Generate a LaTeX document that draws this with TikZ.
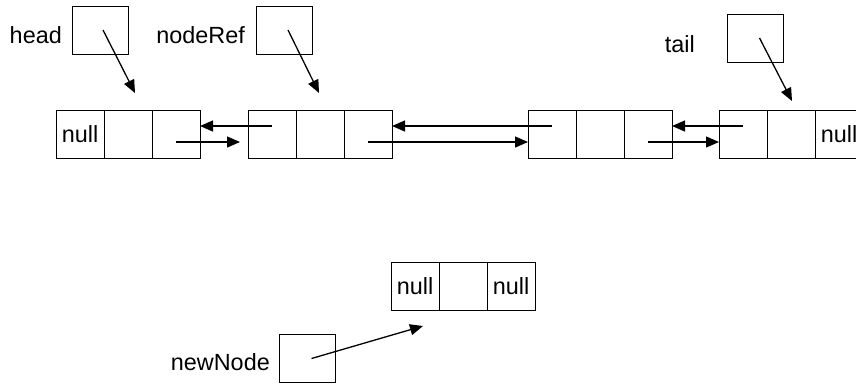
\documentclass[tikz,border=0pt]{standalone}
\usepackage{fontspec}
\setmainfont{Liberation Sans}
\usepackage{tikz}
\usetikzlibrary{positioning}
\usetikzlibrary{arrows.meta}

\begin{document}
\begin{tikzpicture} [
    x=1pt, y=-1pt,
    cell/.style    = { rectangle, draw=black, line width=0.8pt,
                       minimum width=48pt, minimum height=48pt,
                       inner sep=0pt, outer sep=0pt,
                       font=\fontsize{23.4}{28}\selectfont},
    pointer/.style = { rectangle, draw=black, line width=0.8pt,
                       minimum width=56pt, minimum height=48pt,
                       inner sep=0pt, outer sep=0pt},
    varname/.style = { inner sep=0pt, anchor=base east,
                       font=\fontsize{23.4}{28}\selectfont},
    line/.style    = { draw, line width=1.3pt,
                       -{Triangle[length=13pt, width=11pt]}},
  ]

\useasboundingbox (0,0) rectangle (856,383);

%Listenknoten: Zahl = Knoten; a = prev, b = Daten, c = next
  \node [cell] (1a) at (80,134) {null};
  \node [cell, right=0pt of 1a] (1b) {};
  \node [cell, right=0pt of 1b] (1c) {};

  \node [cell] (2a) at (272,134) {};
  \node [cell, right=0pt of 2a] (2b) {};
  \node [cell, right=0pt of 2b] (2c) {};

  \node [cell] (3a) at (552,134) {};
  \node [cell, right=0pt of 3a] (3b) {};
  \node [cell, right=0pt of 3b] (3c) {};

  \node [cell] (4a) at (743,134) {};
  \node [cell, right=0pt of 4a] (4b) {};
  \node [cell, right=0pt of 4b] (4c) {null};

%neuer Knoten
  \node [cell] (5a) at (415,286) {null};
  \node [cell, right=0pt of 5a] (5b) {};
  \node [cell, right=0pt of 5b] (5c) {null};

%Referenzvariablen
  \node [pointer] (head)    at (100,30)      {};
  \node [pointer] (noderef) at (284,30)      {};
  \node [pointer] (tail)    at (755.5,38)    {};
  \node [pointer] (newnode) at (307.5,358.5) {};

  \node [varname] (headname)    at (62,43)   {head};
  \node [varname] (noderefname) at (245,43)  {nodeRef};
  \node [varname] (tailname)    at (695,52)  {tail};
  \node [varname] (newnodename) at (270,370) {newNode};

%Pfeile (Referenz auf Knoten)
  \begin{scope} [every path/.style={line}]
   \path ([xshift=3pt]head.center)    -- ([xshift=7pt, yshift=17pt]1b.north);
   \path ([xshift=4pt]noderef.center) -- ([xshift=-1pt, yshift=17pt]2b.north);
   \path ([xshift=4pt]tail.center)    -- ([xshift=1pt, yshift=9pt]4b.north);
   \path ([xshift=4pt]newnode.center) -- ([xshift=8pt, yshift=-16pt]5a.south);
  \end{scope}

%Pfeile (prev / next zwischen Knoten)
  \begin{scope} [every path/.style={line}]
   \path ([yshift=8pt]2a.center)  -- ([yshift=8pt]1c.east);
   \path [shorten >=8pt] ([yshift=-8pt]1c.center) -- ([yshift=-8pt]2a.west);
   \path ([yshift=8pt]3a.center)  -- ([yshift=8pt]2c.east);
   \path ([yshift=-8pt]2c.center) -- ([yshift=-8pt]3a.west);
   \path ([yshift=8pt]4a.center)  -- ([yshift=8pt]3c.east);
   \path ([yshift=-8pt]3c.center) -- ([yshift=-8pt]4a.west);
  \end{scope}
\end{tikzpicture}
\end{document}
